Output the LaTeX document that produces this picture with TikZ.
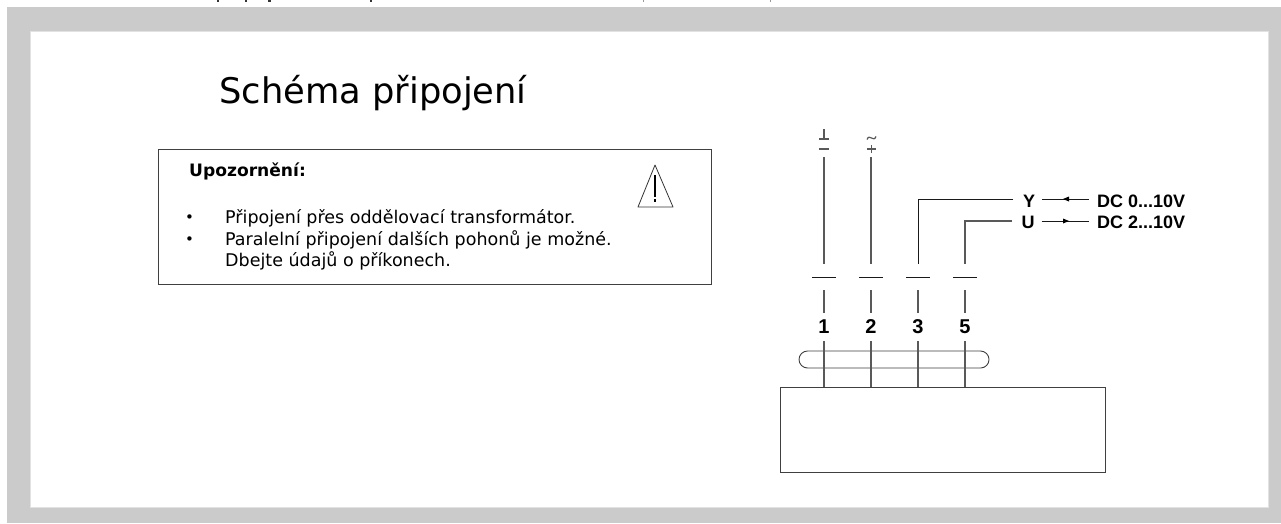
\documentclass[tikz,border=0pt]{standalone}
\usepackage{fontspec}
\setmainfont{DejaVu Sans}
\newfontfamily\cadfont{Liberation Sans}
\definecolor{framegray}{HTML}{CBCBCB}
\definecolor{frameedge}{HTML}{E2E2E2}
\tikzset{
  x=1pt,y=-1pt,
  wire/.style={draw=black!65,line width=1.2pt},
  box/.style={draw=black!75,line width=.9pt},
  sig/.style={draw=black!90,line width=1pt},
  txt/.style={inner sep=0pt,anchor=base west,text=black},
  bodytxt/.style={txt,font=\fontsize{17.5}{17.5}\selectfont},
  cad/.style={inner sep=0pt,anchor=base,font=\fontsize{18}{18}\cadfont\bfseries,text=black},
  num/.style={cad,font=\fontsize{20}{20}\cadfont\bfseries},
}
\begin{document}
\begin{tikzpicture}
\useasboundingbox (0,0) rectangle (1281,523);
\fill[white] (0,0) rectangle (1281,523);
\fill[framegray] (6.5,7) rectangle (1281,523);
\filldraw[fill=white,draw=frameedge,line width=.8pt] (30.5,31) rectangle (1268,507);
% clipped text remains at the top edge
\foreach \x/\w in {217/2,245/1.5,268/2.5,370/1.5}{\fill[black!80] (\x,0) rectangle (\x+\w,1.5);}
\foreach \x in {643,770}{\fill[black!40] (\x,0) rectangle (\x+1,1.5);}
\node[txt,font=\fontsize{35.3}{35.3}\selectfont] (title) at (219,103.500) {Schéma připojení};
\draw[box] (158,149) rectangle (711,284);
\node[txt,font=\fontsize{17.1}{17.1}\selectfont\bfseries] (head) at (189,176) {Upozornění:};
\node[txt,font=\fontsize{15}{15}\selectfont] (b1) at (185,222) {•};
\node[bodytxt] (t1) at (225,223) {Připojení přes oddělovací transformátor.};
\node[txt,font=\fontsize{15}{15}\selectfont] (b2) at (185,244) {•};
\node[bodytxt] (t2) at (225,245) {Paralelní připojení dalších pohonů je možné.};
\node[bodytxt] (t3) at (225,266) {Dbejte údajů o příkonech.};
\draw[draw=black!80,line width=.8pt,line join=round] (655,165) -- (638,207) -- (673,207) -- cycle;
\draw[line width=2.2pt] (655,175) -- (655,197);
\draw[line width=2.2pt] (655,199) -- (655,202);
% supply symbols
\draw[wire] (824,129) -- (824,139) (819,139) -- (829,139) (819,149) -- (829,149);
\draw[wire] (867,139.500) .. controls (869.5,133) and (873.5,143) .. (876,136.500);
\draw[wire] (867,149) -- (876,149) (871.5,145) -- (871.5,153);
% wires
\coordinate (w1t) at (824,157); \coordinate (w1b) at (824,264);
\coordinate (w2t) at (871,157); \coordinate (w2b) at (871,264);
\coordinate (w3c) at (918,199); \coordinate (w3b) at (918,264);
\coordinate (w5c) at (965,221); \coordinate (w5b) at (965,264);
\coordinate (y0) at (1013,199); \coordinate (u0) at (1012,221);
\draw[wire] (w1t) -- (w1b);
\draw[wire] (w2t) -- (w2b);
\draw[sig] (y0) -- (w3c) -- (w3b);
\draw[wire] (u0) -- (w5c) -- (w5b);
\node[num] (n1) at (824,333) {1};
\node[num] (n2) at (871,333) {2};
\node[num] (n3) at (918,333) {3};
\node[num] (n5) at (965,333) {5};
\draw[box,rounded corners=8.5pt] (799,351) rectangle (989,368);
\node[inner sep=0pt,draw=black!75,line width=.9pt,fill=white,minimum width=325pt,minimum height=85pt,anchor=north west] (dev) at (780,387) {};
\foreach \x in {824,871,918,965}{
  \draw[sig] (\x-12,277) -- (\x+12,277);
  \draw[wire] (\x,290) -- (\x,313);
  \draw[wire] (\x,341) -- (\x,387);
}
\node[cad] (y) at (1029,207) {Y};
\node[cad] (u) at (1028,228.500) {U};
\node[cad,anchor=base west] (d0) at (1097,207) {DC 0...10V};
\node[cad,anchor=base west] (d2) at (1097,228.500) {DC 2...10V};
\draw[sig,shorten <=7pt,shorten >=8pt] (y.east |- y0) -- (d0.west |- y0);
\draw[sig,shorten <=7pt,shorten >=8pt] (u.east |- u0) -- (d2.west |- u0);
\fill[black] (1063,199) -- (1069,196.500) -- (1069,201.500) -- cycle;
\fill[black] (1069,221) -- (1063,218.500) -- (1063,223.500) -- cycle;
\end{tikzpicture}
\end{document}
